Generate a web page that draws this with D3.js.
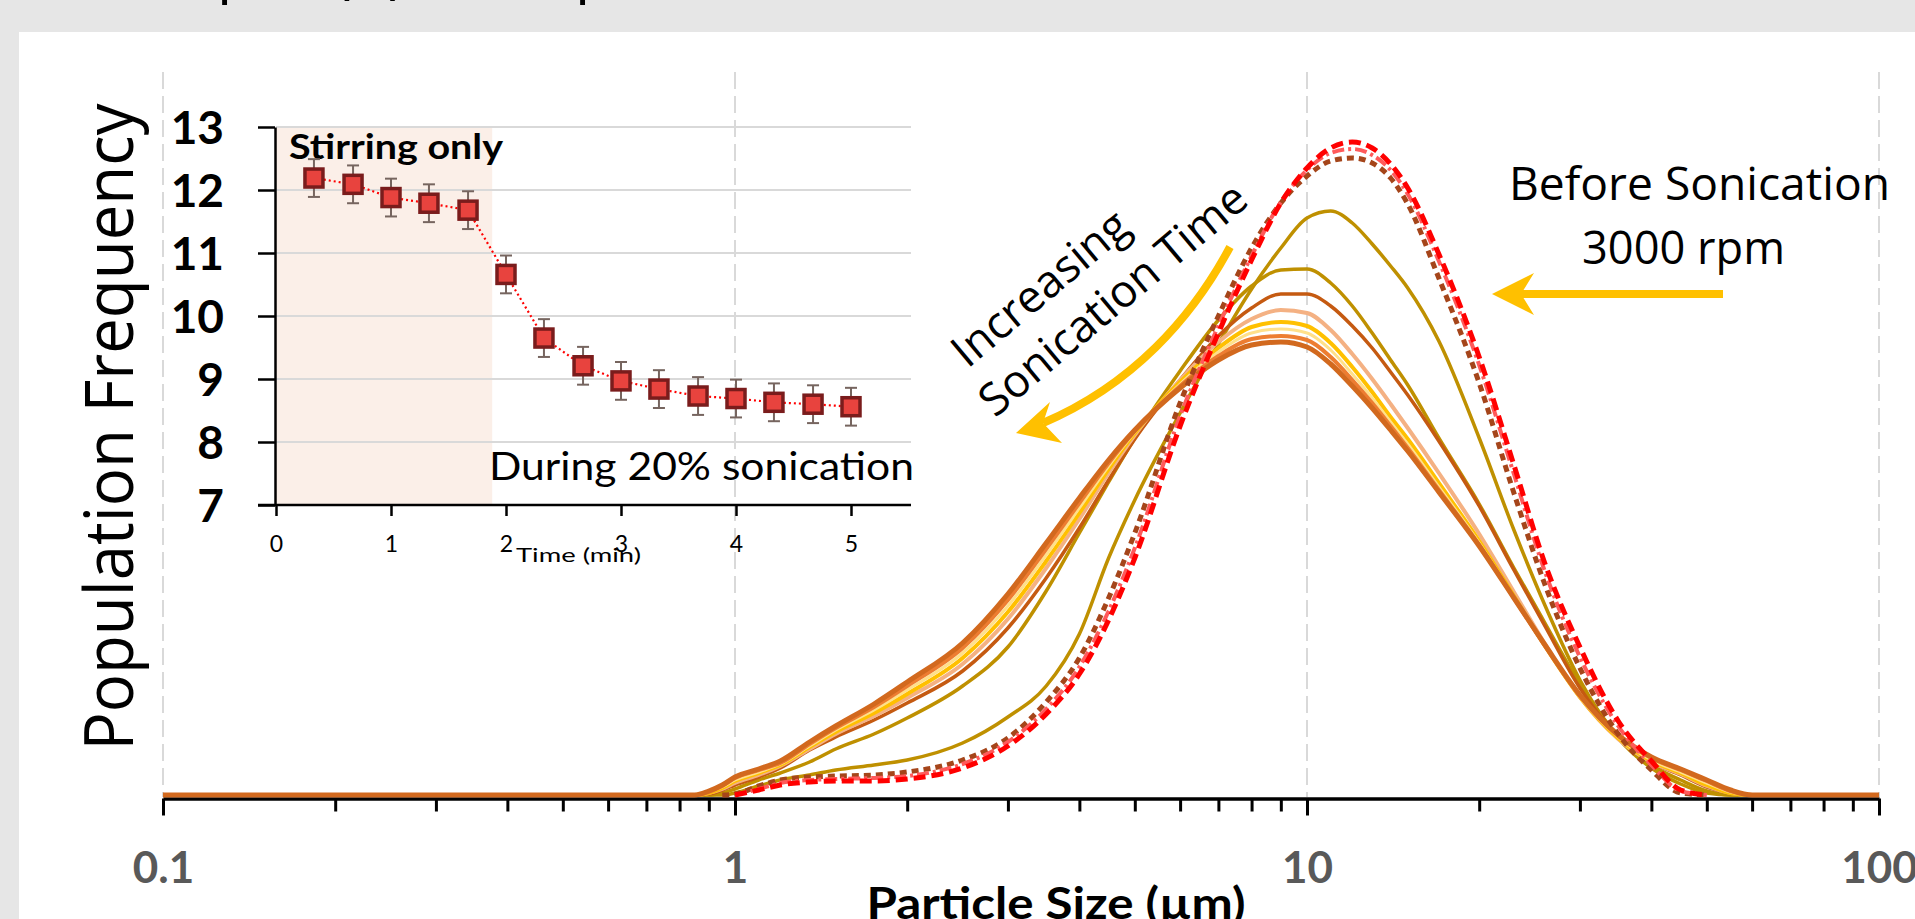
<!DOCTYPE html>
<html><head><meta charset="utf-8">
<script src="https://cdn.jsdelivr.net/npm/d3@7"></script>
<style>
html,body{margin:0;padding:0;background:#e6e6e6;overflow:hidden}
svg{display:block}
</style></head>
<body>
<svg id="chart" width="1915" height="919"></svg>
<script>
// ---------- DATA ----------
// particle size grid (µm)
const sizes = [0.1,0.5,0.85,0.9,0.95,1.0,1.1,1.2,1.35,1.5,1.75,2.0,2.5,3.0,3.5,4.0,4.5,5.0,6.0,7.0,8.0,9.0,10,11,12,13,14,15,17,20,23,26,30,35,40,45,50,55,60,70,100];
// population frequency (arbitrary units) per curve
const goldA      = [0,0,0,0,0,0.04,0.18,0.30,0.40,0.50,0.60,0.70,1.04,1.56,2.18,3.22,4.74,5.90,7.64,9.02,10.12,10.94,11.54,11.68,11.44,11.02,10.58,10.14,9.08,7.14,5.30,3.82,2.30,1.14,0.54,0.22,0.04,0,0,0,0];
const goldB      = [0,0,0,0,0.04,0.12,0.30,0.44,0.66,0.92,1.22,1.54,2.18,2.96,4.08,5.24,6.26,7.14,8.48,9.50,10.18,10.50,10.52,10.24,9.78,9.24,8.70,8.20,7.14,5.82,4.54,3.46,2.22,1.18,0.60,0.30,0.08,0,0,0,0];
const darkOrange = [0,0,0,0.02,0.10,0.20,0.36,0.54,0.90,1.16,1.50,1.84,2.48,3.34,4.34,5.34,6.30,7.12,8.30,9.18,9.74,10.02,10.02,9.78,9.38,8.94,8.46,8.00,7.08,5.78,4.50,3.40,2.14,1.18,0.66,0.40,0.16,0.04,0,0,0];
const lightOrange= [0,0,0,0.04,0.12,0.24,0.40,0.58,0.92,1.22,1.58,1.94,2.62,3.52,4.54,5.52,6.44,7.20,8.30,9.06,9.52,9.70,9.64,9.30,8.82,8.32,7.82,7.34,6.44,5.22,4.06,3.04,1.96,1.12,0.66,0.42,0.18,0.04,0,0,0];
const goldMid    = [0,0,0,0.04,0.14,0.28,0.44,0.60,0.96,1.26,1.64,2.02,2.74,3.66,4.68,5.64,6.52,7.24,8.26,8.94,9.36,9.46,9.38,9.04,8.56,8.06,7.56,7.12,6.24,5.08,3.98,3.00,1.96,1.14,0.68,0.44,0.20,0.04,0,0,0];
const lightGold  = [0,0,0,0.06,0.16,0.30,0.46,0.62,0.98,1.30,1.70,2.10,2.84,3.78,4.80,5.74,6.58,7.26,8.22,8.86,9.24,9.32,9.24,8.90,8.42,7.94,7.46,7.02,6.16,5.04,3.96,3.00,1.96,1.16,0.70,0.46,0.24,0.06,0,0,0];
const orange     = [0,0,0,0.06,0.18,0.34,0.50,0.64,1.02,1.34,1.76,2.18,2.94,3.90,4.92,5.84,6.64,7.28,8.18,8.78,9.12,9.18,9.10,8.76,8.30,7.84,7.38,6.94,6.10,5.00,3.94,3.00,1.98,1.18,0.74,0.50,0.28,0.08,0,0,0];
const deepOrange = [0,0,0,0.08,0.20,0.36,0.52,0.68,1.06,1.38,1.82,2.26,3.04,4.02,5.04,5.94,6.70,7.30,8.14,8.70,9.00,9.06,8.96,8.62,8.18,7.74,7.30,6.88,6.06,4.98,3.94,3.02,2.00,1.20,0.76,0.52,0.30,0.10,0,0,0];
const brownDash  = [0,0,0,0,0,0.02,0.18,0.30,0.36,0.38,0.40,0.46,0.70,1.14,1.86,2.74,3.94,5.24,7.84,9.58,10.94,11.84,12.38,12.68,12.74,12.64,12.34,11.82,10.34,8.24,6.04,4.24,2.54,1.22,0.50,0.04,0,0,0,0,0];
const pinkDash   = [0,0,0,0,0,0,0.12,0.24,0.30,0.32,0.34,0.38,0.62,1.06,1.72,2.56,3.68,4.94,7.58,9.38,10.78,11.86,12.50,12.84,12.92,12.80,12.50,12.02,10.68,8.60,6.42,4.50,2.76,1.38,0.60,0.08,0,0,0,0,0];
const redDash    = [0,0,0,0,0,0,0.10,0.20,0.26,0.28,0.28,0.32,0.54,0.98,1.62,2.42,3.50,4.74,7.38,9.24,10.70,11.84,12.54,12.94,13.06,12.94,12.62,12.14,10.82,8.76,6.60,4.66,2.96,1.48,0.68,0.10,0,0,0,0,0];

const xTickValues = [0.1,1,10,100];
const xTickLabels = ["0.1","1","10","100"];

// inset
const insetTimes  = [0.33,0.67,1,1.33,1.67,2,2.33,2.67,3,3.33,3.67,4,4.33,4.67,5];
const insetValues = [12.19,12.09,11.88,11.79,11.68,10.66,9.65,9.21,8.97,8.84,8.73,8.69,8.63,8.60,8.56];
const insetErrors = [0.3,0.3,0.3,0.3,0.3,0.3,0.3,0.3,0.3,0.3,0.3,0.3,0.3,0.3,0.3];
const insetYTicks = [7,8,9,10,11,12,13];
const insetXTicks = [0,1,2,3,4,5];
const stirringEnd = 1.88;

// ---------- DRAW ----------
const svg = d3.select("#chart");
const W = 1915, H = 919;
svg.append("rect").attr("width",W).attr("height",H).attr("fill","#e6e6e6");
svg.append("rect").attr("x",19).attr("y",32).attr("width",W-19).attr("height",H-32).attr("fill","#ffffff");
svg.append("text").attr("x",217).attr("y",-9).attr("font-family","Open Sans").attr("font-size",60)
  .attr("fill","#000").text("ple, (b) Example");

const x = d3.scaleLog().domain([0.1,100]).range([163,1879]);
const y = d3.scaleLinear().domain([0,14.5]).range([795,70]);

// vertical dashed grid
svg.append("g").selectAll("line").data(xTickValues).join("line")
  .attr("x1",d=>x(d)).attr("x2",d=>x(d)).attr("y1",72).attr("y2",797)
  .attr("stroke","#d9d9d9").attr("stroke-width",2).attr("stroke-dasharray","17,7");

// y title
svg.append("text").attr("transform","translate(133,427) rotate(-90)")
  .attr("text-anchor","middle").attr("font-family","Open Sans").attr("font-size",67)
  .attr("textLength",647).attr("lengthAdjust","spacingAndGlyphs")
  .attr("fill","#000").text("Population Frequency");

// ---------- INSET ----------
const xi = d3.scaleLinear().domain([0,5]).range([276,851]);
const yi = d3.scaleLinear().domain([7,13]).range([505,127]);
const gi = svg.append("g");
gi.append("rect").attr("x",xi(0)).attr("y",yi(13)).attr("width",xi(stirringEnd)-xi(0)).attr("height",yi(7)-yi(13))
  .attr("fill","#fbefe8");
gi.selectAll(".hg").data(insetYTicks.filter(d=>d>7)).join("line")
  .attr("x1",xi(0)).attr("x2",911).attr("y1",d=>yi(d)).attr("y2",d=>yi(d))
  .attr("stroke","#d9d9d9").attr("stroke-width",2.2);
// y axis
const yAxisG = gi.append("g").attr("transform","translate(275,0)")
  .call(d3.axisLeft(yi).tickValues(insetYTicks).tickSize(17).tickSizeOuter(0).tickPadding(34).tickFormat(d3.format("d")));
yAxisG.select(".domain").attr("stroke","#000").attr("stroke-width",2.5);
yAxisG.selectAll(".tick line").attr("stroke","#000").attr("stroke-width",2.5);
yAxisG.selectAll(".tick text").attr("font-family","Lato").attr("font-weight","bold").attr("font-size",46)
  .attr("fill","#000").attr("dy","0.36em");
// x axis
gi.append("line").attr("x1",258).attr("x2",911).attr("y1",505).attr("y2",505).attr("stroke","#000").attr("stroke-width",2.5);
const xAxisG = gi.append("g").attr("transform","translate(0,505)")
  .call(d3.axisBottom(xi).tickValues(insetXTicks).tickSize(11).tickSizeOuter(0).tickFormat(d3.format("d")));
xAxisG.select(".domain").remove();
xAxisG.selectAll(".tick line").attr("stroke","#000").attr("stroke-width",2.5);
xAxisG.selectAll(".tick text").attr("font-family","Lato").attr("font-size",23).attr("fill","#000")
  .attr("y",47).attr("dy",null);
gi.append("text").attr("x",516).attr("y",562).attr("font-family","Lato").attr("font-size",20)
  .attr("textLength",125).attr("lengthAdjust","spacingAndGlyphs").text("Time (min)");
gi.append("text").attr("x",289).attr("y",159).attr("font-family","Lato").attr("font-weight","bold").attr("font-size",34)
  .attr("textLength",214).attr("lengthAdjust","spacingAndGlyphs").text("Stirring only");
gi.append("text").attr("x",489).attr("y",480).attr("font-family","Lato").attr("font-size",38)
  .attr("textLength",425).attr("lengthAdjust","spacingAndGlyphs").text("During 20% sonication");
// inset series
const ip = insetTimes.map((t,i)=>({t, v:insetValues[i], e:insetErrors[i]}));
gi.append("path").datum(ip).attr("d",d3.line().x(d=>xi(d.t)).y(d=>yi(d.v)))
  .attr("fill","none").attr("stroke","#ff0000").attr("stroke-width",2.2).attr("stroke-dasharray","2,3");
const eb = gi.append("g").attr("stroke","#76655f").attr("stroke-width",2);
eb.selectAll(".ev").data(ip).join("line").attr("x1",d=>xi(d.t)).attr("x2",d=>xi(d.t))
  .attr("y1",d=>yi(d.v+d.e)).attr("y2",d=>yi(d.v-d.e));
eb.selectAll(".et").data(ip).join("line").attr("x1",d=>xi(d.t)-6).attr("x2",d=>xi(d.t)+6)
  .attr("y1",d=>yi(d.v+d.e)).attr("y2",d=>yi(d.v+d.e));
eb.selectAll(".eb").data(ip).join("line").attr("x1",d=>xi(d.t)-6).attr("x2",d=>xi(d.t)+6)
  .attr("y1",d=>yi(d.v-d.e)).attr("y2",d=>yi(d.v-d.e));
gi.selectAll(".mk").data(ip).join("rect").attr("x",d=>xi(d.t)-9).attr("y",d=>yi(d.v)-9)
  .attr("width",18).attr("height",18).attr("fill","#e8433e").attr("stroke","#7a1c1c").attr("stroke-width",3.5);

// ---------- MAIN AXIS ----------
const minor = [];
[0.1,1,10].forEach(dec=>{ for(let k=2;k<=9;k++) minor.push(+(dec*k).toPrecision(3)); });
const allTicks = xTickValues.concat(minor).sort((a,b)=>a-b);
const xa = svg.append("g").attr("transform","translate(0,798.5)")
  .call(d3.axisBottom(x).tickValues(allTicks).tickSize(13).tickSizeOuter(0)
    .tickFormat(d=>{const i=xTickValues.indexOf(d); return i>=0?xTickLabels[i]:"";}));
xa.select(".domain").attr("stroke","#000").attr("stroke-width",3.5);
xa.selectAll(".tick line").attr("stroke","#000").attr("stroke-width",3)
  .attr("y2",d=>xTickValues.includes(d)?17:13);
xa.selectAll(".tick text").attr("font-family","Lato").attr("font-weight","bold").attr("font-size",44)
  .attr("fill","#595959").attr("y",84).attr("dy",null);
svg.append("text").attr("x",1056).attr("y",919).attr("text-anchor","middle")
  .attr("font-family","Lato").attr("font-weight","bold").attr("font-size",44)
  .attr("textLength",379).attr("lengthAdjust","spacingAndGlyphs").text("Particle Size (µm)");

// ---------- CURVES ----------
const line = d3.line().x(d=>x(d[0])).y(d=>y(d[1])).curve(d3.curveMonotoneX);
function pts(arr, trim){
  let p = sizes.map((s,i)=>[s,arr[i]]);
  if(trim){
    let a = arr.findIndex(v=>v>0), b = arr.length-1-[...arr].reverse().findIndex(v=>v>0);
    p = p.slice(Math.max(0,a-1), Math.min(arr.length,b+2));
  }
  return p;
}
const solids = [
  {d:goldA, c:"#BF9000", w:3.5},
  {d:goldB, c:"#BF9000", w:3.5},
  {d:darkOrange, c:"#C55A11", w:3.5},
  {d:lightOrange, c:"#F4B183", w:4},
  {d:goldMid, c:"#FFC000", w:4},
  {d:lightGold, c:"#FFE08A", w:3},
  {d:orange, c:"#ED7D31", w:4},
  {d:deepOrange, c:"#D2691E", w:5}
];
const dashed = [
  {d:brownDash, c:"#A5451A", w:5, dash:"7,5"},
  {d:pinkDash, c:"#FF5A5A", w:4, dash:"12,4,3,4"},
  {d:redDash, c:"#FF0000", w:5, dash:"12,6"}
];
const gc = svg.append("g").attr("fill","none").attr("stroke-linejoin","round");
solids.forEach(s=>{
  gc.append("path").attr("d",line(pts(s.d,false))).attr("stroke",s.c).attr("stroke-width",s.w);
});
dashed.forEach(s=>{
  gc.append("path").attr("d",line(pts(s.d,true))).attr("stroke",s.c).attr("stroke-width",s.w).attr("stroke-dasharray",s.dash);
});

// ---------- ANNOTATIONS ----------
const arrowC = "#FFC000";
svg.append("text").attr("x",1509).attr("y",200).attr("font-family","Open Sans").attr("font-size",45)
  .attr("textLength",381).attr("lengthAdjust","spacingAndGlyphs").text("Before Sonication");
svg.append("text").attr("x",1582).attr("y",264).attr("font-family","Open Sans").attr("font-size",45)
  .attr("textLength",203).attr("lengthAdjust","spacingAndGlyphs").text("3000 rpm");
svg.append("line").attr("x1",1723).attr("x2",1520).attr("y1",294).attr("y2",294).attr("stroke",arrowC).attr("stroke-width",8);
svg.append("path").attr("d","M1492,294 L1534,273 L1521,294 L1534,315 Z").attr("fill",arrowC);

svg.append("text").attr("transform","translate(1050,300) rotate(-40)").attr("text-anchor","middle")
  .attr("font-family","Open Sans").attr("font-size",45).text("Increasing");
svg.append("text").attr("transform","translate(1123,311) rotate(-40)").attr("text-anchor","middle")
  .attr("font-family","Open Sans").attr("font-size",45).text("Sonication Time");
svg.append("path").attr("d","M1230,247 C1192,318 1132,385 1043,423").attr("fill","none")
  .attr("stroke",arrowC).attr("stroke-width",8);
svg.append("path").attr("d","M1016,433 L1050,402 L1043,423 L1062,443 Z").attr("fill",arrowC);
</script>
</body></html>
